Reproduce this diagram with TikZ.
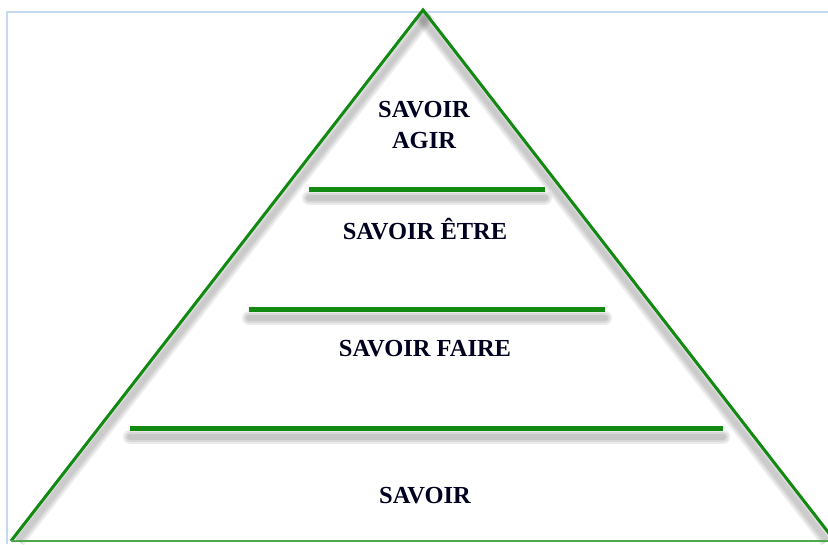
\documentclass[tikz,border=0pt]{standalone}
\usepackage{fontspec}
\setmainfont{Liberation Serif}
\definecolor{pyrgreen}{RGB}{18,138,18}
\definecolor{framebl}{RGB}{196,216,240}
\definecolor{shade}{RGB}{160,160,160}
\begin{document}
\begin{tikzpicture}[x=1pt,y=-1pt,
  level/.style={draw=pyrgreen,line width=5pt},
  edge/.style={draw=pyrgreen,line width=3pt,line join=miter},
  label/.style={font=\bfseries\fontsize{24.5}{31}\selectfont,text=black!88!blue,align=center}]
  \useasboundingbox (0,0) rectangle (828,544);
  \fill[white] (0,0) rectangle (828,544);
  % page frame
  \draw[framebl,line width=2pt] (7,544) -- (7,12) -- (830,12);
  % corner points of the pyramid
  \coordinate (apex) at (423,10);
  \coordinate (bl) at (11,541);
  \coordinate (br) at (835,541);
  % soft shading along the inner side of the edges
  \foreach \w in {14,10,6}{
    \draw[shade,line width=\w pt,opacity=0.07] ([xshift=6pt,yshift=-4pt]apex) -- ([xshift=7pt]bl);
    \draw[shade,line width=\w pt,opacity=0.07] ([xshift=-4pt,yshift=-4pt]apex) -- ([xshift=-8pt]br);
  }
  % pyramid outline
  \draw[edge] (bl) -- (apex) -- (br);
  \draw[pyrgreen!75!white,line width=2.5pt] (bl) -- (br);
  % separators between the levels, each with a soft shadow below
  \foreach \y/\a/\b/\n in {189/309/545/s1, 309/249/605/s2, 428/130/723/s3}{
    \coordinate (\n l) at (\a,\y);
    \coordinate (\n r) at (\b,\y);
    \foreach \w in {14,10,6}{
      \draw[shade,line width=\w pt,opacity=0.08,line cap=round]
        ([yshift=-9pt]\n l) -- ([yshift=-9pt]\n r);
    }
    \draw[level] (\n l) -- (\n r);
  }
  % level labels
  \node[label] (agir) at (424,125) {SAVOIR\\AGIR};
  \node[label] (etre) at (425,229) {SAVOIR ÊTRE};
  \node[label] (faire) at (425,349) {SAVOIR FAIRE};
  \node[label] (savoir) at (425,496) {SAVOIR};
\end{tikzpicture}
\end{document}
